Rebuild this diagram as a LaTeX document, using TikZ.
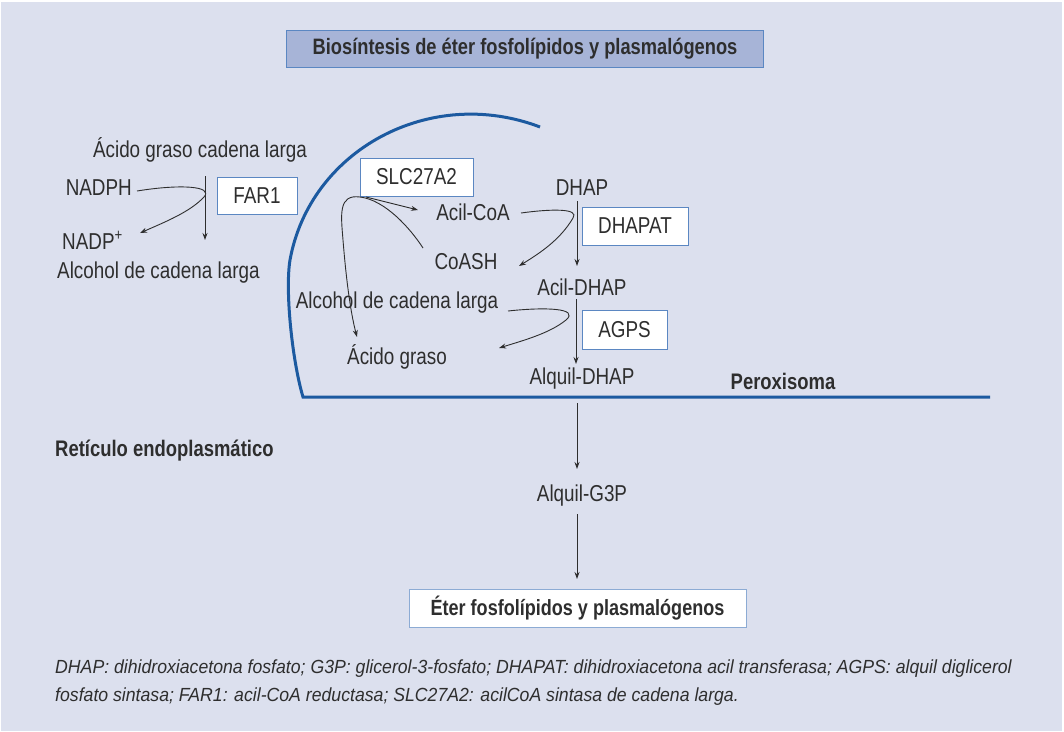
\documentclass[tikz,border=0pt]{standalone}
\usepackage{fontspec}
\setmainfont{Liberation Sans}[FakeStretch=0.82]
\newfontfamily\capfont{Liberation Sans}[FakeStretch=0.93]
\usetikzlibrary{arrows.meta}
\definecolor{panel}{HTML}{DCE0EE}
\definecolor{titlefill}{HTML}{A7B4D7}
\definecolor{boxline}{HTML}{5B87C2}
\definecolor{memb}{HTML}{1C5AA0}
\definecolor{txt}{HTML}{2E2E2E}
\tikzset{
  lbl/.style={text=txt, inner sep=0pt, font=\fontsize{23}{26}\selectfont},
  bold/.style={text=txt, inner sep=0pt, font=\fontsize{22.5}{26}\selectfont\bfseries},
  enz/.style={draw=boxline, line width=1pt, fill=white, text=txt, inner sep=0pt,
              font=\fontsize{23}{26}\selectfont},
  conn/.style={draw=txt, line width=0.9pt},
  arr/.style={conn, -{Stealth[length=7pt,width=5pt]}},
  membrane/.style={draw=memb, line width=3pt, line join=miter}
}
\begin{document}
\begin{tikzpicture}[x=1pt,y=-1pt]
\useasboundingbox (0,0) rectangle (1064,731);
\fill[white] (0,0) rectangle (1064,731);
\fill[panel] (1,2) rectangle (1062,731);

% title
\node[draw=boxline, fill=titlefill, line width=1pt, minimum width=477pt, minimum height=37pt,
      inner sep=0pt, text=txt, font=\fontsize{22.3}{26}\selectfont\bfseries] (title) at (525,48.5)
      {Biosíntesis de éter fosfolípidos y plasmalógenos};

% membrane
\draw[membrane] (540,127) .. controls (430,85) and (310,150) .. (290,260)
   .. controls (285,290) and (292,360) .. (303,397) -- (990,397);
\node[bold] (perox) at (783,381) {Peroxisoma};
\node[bold, anchor=west] (ret) at (55,451) {Retículo endoplasmático};

% left: FAR1
\node[lbl] (agcl) at (200,150) {Ácido graso cadena larga};
\node[lbl, anchor=east] (nadph) at (132,188) {NADPH};
\node[lbl, anchor=west] (nadp) at (62,240) {NADP\textsuperscript{+}};
\node[lbl, anchor=west] (alc1) at (57,273) {Alcohol de cadena larga};
\node[enz, minimum width=80pt, minimum height=37pt] (far) at (257,195.5) {FAR1};
\coordinate (f1) at (205,176);
\coordinate (f2) at (205,240);
\draw[arr] (f1) -- (f2);
\coordinate (n1) at (137,191);
\coordinate (n2) at (204,197);
\coordinate (n3) at (140,233);
\draw[arr] (n1) .. controls (180,184) and (214,186) .. (n2) .. controls (190,212) and (165,222) .. (n3);

% SLC27A2
\node[enz, minimum width=113pt, minimum height=38pt] (slc) at (416.5,177) {SLC27A2};
\node[lbl] (acoa) at (473,212) {Acil-CoA};
\node[lbl] (coash) at (466,262) {CoASH};
\node[lbl] (alc2) at (397,303) {Alcohol de cadena larga};
\node[lbl] (ag) at (397,357) {Ácido graso};
\coordinate (s) at (360,197);
\coordinate (s1) at (418,210);
\coordinate (s2) at (423,248);
\coordinate (s3) at (357,337);
\draw[arr] (s) ++(6,0) -- (s1);
\draw[conn] (s) .. controls (385,200) and (410,228) .. (s2);
\draw[arr] (s) .. controls (338,194) and (341,215) .. (343,240) .. controls (347,290) and (352,318) .. (s3);

% DHAP
\node[lbl] (dhap) at (582,188) {DHAP};
\node[enz, minimum width=106pt, minimum height=38pt] (dhapat) at (635,226) {DHAPAT};
\node[lbl] (adhap) at (582,287) {Acil-DHAP};
\coordinate (d1) at (577,201);
\coordinate (d2) at (577,266);
\draw[arr] (d1) -- (d2);
\coordinate (c1) at (521,213);
\coordinate (c2) at (573,218);
\coordinate (c3) at (519,266);
\draw[arr] (c1) .. controls (550,209) and (580,208) .. (c2) .. controls (560,240) and (540,253) .. (c3);

% AGPS
\node[enz, minimum width=85pt, minimum height=39pt] (agps) at (624.5,329.5) {AGPS};
\node[lbl] (aldhap) at (582,379) {Alquil-DHAP};
\coordinate (g1) at (576,299);
\coordinate (g2) at (576,364);
\draw[arr] (g1) -- (g2);
\coordinate (h1) at (508,311);
\coordinate (h2) at (566,320);
\coordinate (h3) at (499,348);
\draw[arr] (h1) .. controls (545,307) and (580,308) .. (h2) .. controls (550,333) and (525,340) .. (h3);

% lower part
\node[lbl] (g3p) at (582,496) {Alquil-G3P};
\coordinate (k1) at (577,403);
\coordinate (k2) at (577,469);
\draw[arr] (k1) -- (k2);
\node[draw=boxline!70, fill=white, line width=1pt, minimum width=337pt, minimum height=38pt,
      inner sep=0pt, text=txt, font=\fontsize{22}{26}\selectfont\bfseries] (final) at (577.5,608)
      {Éter fosfolípidos y plasmalógenos};
\coordinate (k3) at (577,514);
\coordinate (k4) at (577,579);
\draw[arr] (k3) -- (k4);

% caption
\node[anchor=north west, align=left, inner sep=0pt, text=txt,
      font=\capfont\fontsize{19}{28}\selectfont\itshape] (cap) at (55,660)
  {DHAP: dihidroxiacetona fosfato; G3P: glicerol-3-fosfato; DHAPAT: dihidroxiacetona acil transferasa; AGPS: alquil diglicerol\\
   fosfato sintasa; FAR1: acil-CoA reductasa; SLC27A2: acilCoA sintasa de cadena larga.};
\end{tikzpicture}
\end{document}
